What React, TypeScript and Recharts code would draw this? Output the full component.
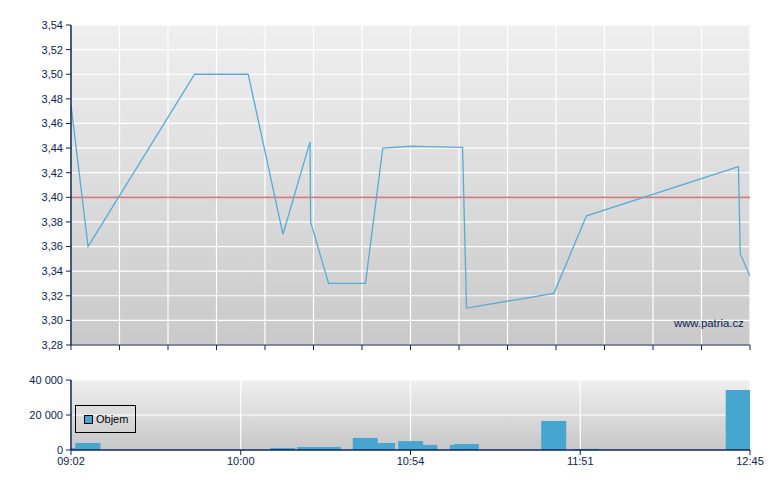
import React from 'react';
import {
  ComposedChart,
  Line,
  XAxis,
  YAxis,
  CartesianGrid,
  ReferenceLine,
  BarChart,
  Bar,
  Legend,
} from 'recharts';

// minutes since 09:02 for each trade
const times = [0, 5.6, 40.6, 58.2, 69.6, 78.5, 78.7, 84.6, 96.7, 102.4, 111.6, 116.3, 128.6, 129.9, 158.6, 169.3, 219.2, 219.8, 223];
const prices = [3.475, 3.36, 3.5, 3.5, 3.37, 3.445, 3.38, 3.33, 3.33, 3.44, 3.4415, 3.4412, 3.4405, 3.31, 3.322, 3.385, 3.425, 3.354, 3.336];
const volumes = [1100, 4000, 0, 0, 1100, 1700, 0, 1700, 6900, 4000, 5100, 2900, 2900, 3400, 16600, 600, 34300, 0, 0];

const timeTickLabels = ['09:02', '10:00', '10:54', '11:51', '12:45'];
const priceTicks = [3.28, 3.3, 3.32, 3.34, 3.36, 3.38, 3.4, 3.42, 3.44, 3.46, 3.48, 3.5, 3.52, 3.54];
const volumeTicks = [0, 20000, 40000];
const previousClose = 3.4;
const sessionEnd = 223;
const gridDivisions = 14;

const priceData = times.map((t, i) => ({ t, price: prices[i] }));
const volumeData = times
  .map((t, i) => ({ t, volume: volumes[i] }))
  .filter((d) => d.volume > 0)
  .sort((a, b) => a.volume - b.volume);

const labelTicks = timeTickLabels.map((_, i) => (i * sessionEnd) / (timeTickLabels.length - 1));
const gridTicks = Array.from({ length: gridDivisions + 1 }, (_, i) => (i * sessionEnd) / gridDivisions);

const NAVY = '#0b2358';
const FONT = '"Liberation Sans", Arial, sans-serif';
const BAR_BLUE = '#47a6cf';

const fmtPrice = (v: number) => v.toFixed(2).replace('.', ',');
const fmtVol = (v: number) => String(v).replace(/\B(?=(\d{3})+(?!\d))/g, ' ');
const fmtTime = (v: number) => {
  const idx = labelTicks.findIndex((t) => Math.abs(t - v) < 0.01);
  return idx >= 0 ? timeTickLabels[idx] : '';
};

const VolumeBar = (props: any) => {
  const { x, y, width, height, fill } = props;
  if (y == null || height == null || isNaN(height)) return null;
  const cx = x + width / 2;
  return <rect x={cx - 12.5} y={y} width={25} height={height} fill={fill} />;
};

const LegendBox = () => (
  <div
    style={{
      boxSizing: 'border-box',
      width: 61,
      height: 28,
      border: '1px solid #000',
      display: 'flex',
      alignItems: 'center',
      paddingLeft: 8,
      fontFamily: FONT,
      fontSize: 11,
      color: '#000',
    }}
  >
    <span
      style={{
        display: 'inline-block',
        boxSizing: 'border-box',
        width: 9,
        height: 9,
        background: BAR_BLUE,
        border: '1px solid #000',
        marginRight: 3,
      }}
    />
    <span>Objem</span>
  </div>
);

export default function App() {
  return (
    <div style={{ position: 'absolute', left: 0, top: 0, width: 780, height: 490, background: '#fff' }}>
      <div style={{ position: 'absolute', left: 0, top: 0 }}>
        <ComposedChart width={780} height={360} data={priceData} margin={{ top: 25, right: 30, bottom: 5, left: 0 }}>
          <defs>
            <linearGradient id="bgPrice" x1="0" y1="0" x2="0" y2="1">
              <stop offset="0%" stopColor="#efefef" />
              <stop offset="100%" stopColor="#c9c9c9" />
            </linearGradient>
          </defs>
          <CartesianGrid fill="url(#bgPrice)" fillOpacity={1} stroke="#ffffff" strokeWidth={1.2} />
          <XAxis
            dataKey="t"
            type="number"
            domain={[0, sessionEnd]}
            ticks={gridTicks}
            interval={0}
            tickFormatter={() => ''}
            height={10}
            tickSize={5}
            axisLine={{ stroke: NAVY, strokeWidth: 1 }}
            tickLine={{ stroke: NAVY }}
            allowDataOverflow
          />
          <YAxis
            type="number"
            domain={[3.28, 3.54]}
            ticks={priceTicks}
            interval={0}
            width={71}
            tickSize={5}
            tickMargin={3}
            tickFormatter={fmtPrice}
            tick={{ fill: NAVY, fontSize: 11, fontFamily: FONT }}
            axisLine={{ stroke: NAVY, strokeWidth: 1.5 }}
            tickLine={{ stroke: NAVY }}
            allowDataOverflow
          />
          <ReferenceLine y={previousClose} stroke="#d67c7c" strokeWidth={1.8} />
          <Line
            type="linear"
            dataKey="price"
            stroke="#56acd6"
            strokeWidth={1.3}
            dot={false}
            activeDot={false}
            isAnimationActive={false}
          />
        </ComposedChart>
      </div>
      <div
        style={{
          position: 'absolute',
          left: 674,
          top: 317,
          fontFamily: FONT,
          fontSize: 11.3,
          color: NAVY,
          whiteSpace: 'nowrap',
        }}
      >
        www.patria.cz
      </div>
      <div style={{ position: 'absolute', left: 0, top: 360 }}>
        <BarChart width={780} height={130} data={volumeData} margin={{ top: 20, right: 30, bottom: 10, left: 0 }}>
          <defs>
            <linearGradient id="bgVol" x1="0" y1="0" x2="0" y2="1">
              <stop offset="0%" stopColor="#efefef" />
              <stop offset="100%" stopColor="#c7c7c7" />
            </linearGradient>
          </defs>
          <CartesianGrid fill="url(#bgVol)" fillOpacity={1} stroke="#ffffff" strokeWidth={1.2} />
          <XAxis
            dataKey="t"
            type="number"
            domain={[0, sessionEnd]}
            ticks={labelTicks}
            interval={0}
            tickFormatter={fmtTime}
            height={30}
            tickSize={5}
            tickMargin={2}
            tick={{ fill: NAVY, fontSize: 11, fontFamily: FONT }}
            axisLine={{ stroke: NAVY, strokeWidth: 1.5 }}
            tickLine={{ stroke: NAVY }}
            allowDataOverflow
          />
          <YAxis
            type="number"
            domain={[0, 40000]}
            ticks={volumeTicks}
            interval={0}
            width={71}
            tickSize={5}
            tickMargin={3}
            tickFormatter={fmtVol}
            tick={{ fill: NAVY, fontSize: 11, fontFamily: FONT }}
            axisLine={{ stroke: NAVY, strokeWidth: 1.5 }}
            tickLine={{ stroke: NAVY }}
          />
          <Legend
            layout="horizontal"
            verticalAlign="middle"
            align="center"
            content={() => <LegendBox />}
            wrapperStyle={{ left: 75, top: 45, bottom: 'auto', right: 'auto', width: 61, height: 28 }}
          />
          <Bar
            dataKey="volume"
            name="Objem"
            fill={BAR_BLUE}
            barSize={25}
            shape={VolumeBar}
            isAnimationActive={false}
          />
        </BarChart>
      </div>
    </div>
  );
}
